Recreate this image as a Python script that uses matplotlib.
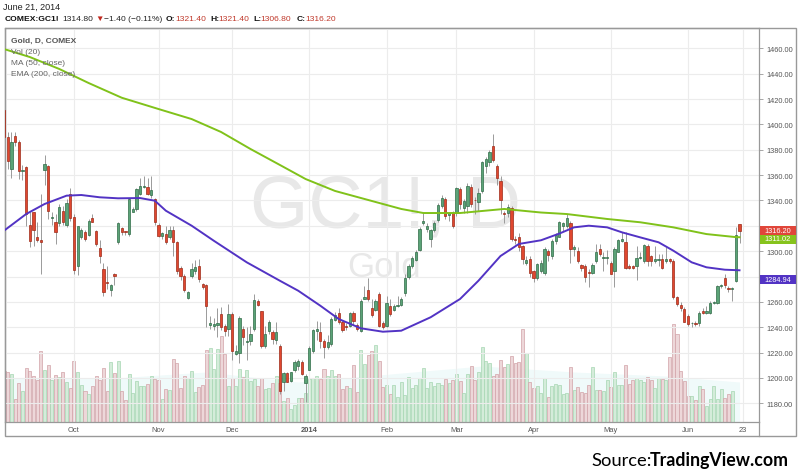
import numpy as np
import pandas as pd
import matplotlib
matplotlib.use("Agg")
import matplotlib.pyplot as plt
from matplotlib.patches import Rectangle
from matplotlib.lines import Line2D

plt.rcParams["font.family"] = ["Liberation Sans", "DejaVu Sans"]

# ---------------------------------
# Data: COMEX:GC1! daily, Sep 2013 - Jun 2014
# ---------------------------------
holidays = ["2013-09-02", "2013-11-28", "2013-12-25", "2014-01-01",
            "2014-01-20", "2014-02-17", "2014-04-18", "2014-05-26"]
dates = pd.bdate_range("2013-09-04", "2014-06-20")
dates = dates[~dates.isin(pd.to_datetime(holidays))]

opens = [
    1411, 1390, 1365, 1391, 1386, 1363, 1366, 1321, 1331, 1311,
    1309, 1364, 1367, 1326, 1323, 1322, 1332, 1321, 1345, 1327,
    1288, 1311, 1315, 1313, 1326, 1316, 1302.5, 1286, 1275.5, 1269.5,
    1282, 1307, 1318, 1315.5, 1313.5, 1331, 1333, 1345, 1351, 1351,
    1344, 1341, 1321, 1312, 1313.5, 1311, 1316.5, 1307, 1287, 1280.5,
    1263, 1280.5, 1284.5, 1288, 1274, 1273, 1241.5, 1241, 1242, 1250.5,
    1241, 1238.5, 1250.5, 1219, 1220, 1238.5, 1228, 1229, 1238.5, 1261,
    1252.5, 1225.5, 1237, 1236, 1230, 1225.5, 1196.5, 1204, 1198, 1206,
    1209.5, 1213, 1196, 1206.5, 1221.5, 1237, 1236.5, 1229, 1224.5, 1227,
    1246, 1251.5, 1244, 1241, 1241, 1251, 1242, 1237, 1262.5, 1269,
    1255, 1254, 1266, 1243, 1241, 1257, 1254, 1257, 1257.5, 1267,
    1280, 1288.5, 1293, 1301, 1322, 1317.5, 1309.5, 1317, 1324.5, 1336,
    1341, 1328.5, 1330, 1330, 1349, 1334, 1336, 1350.5, 1340.5, 1339,
    1347.5, 1367.5, 1370.5, 1383, 1367, 1355.5, 1330.5, 1330, 1334, 1310,
    1311, 1304, 1291, 1294, 1284.5, 1279, 1284.5, 1283, 1300.5, 1296,
    1308, 1311.5, 1320, 1319.5, 1322, 1301.5, 1300, 1289, 1288, 1283.5,
    1283, 1292.5, 1302, 1295, 1295, 1291, 1284, 1299.5, 1308, 1307,
    1288.5, 1288, 1288, 1294.5, 1292.5, 1304, 1296, 1292.5, 1293, 1294,
    1292.5, 1294, 1292.5, 1263.5, 1257.5, 1254.5, 1249, 1243, 1243.3, 1243.3,
    1253, 1251.5, 1251.5, 1259, 1259, 1272.5, 1278.5, 1271, 1270, 1276.5,
    1321.4]
highs = [
    1414, 1394, 1394, 1394, 1388, 1368, 1367, 1331, 1331, 1323,
    1345, 1376, 1368, 1331, 1329, 1337, 1336, 1341, 1350, 1329,
    1320, 1318, 1317, 1325, 1329, 1317, 1309, 1291, 1288, 1274,
    1283, 1323, 1319, 1316, 1342, 1335, 1350, 1358, 1359.5, 1358,
    1359.5, 1342, 1322, 1315, 1320, 1320, 1320, 1308, 1288.5, 1282,
    1268.5, 1291, 1293, 1294, 1275, 1274, 1249, 1247, 1255, 1256,
    1242.5, 1258, 1252, 1226, 1249, 1241, 1240, 1241, 1266, 1262,
    1253, 1241, 1246, 1238, 1244, 1226.5, 1205, 1205, 1205, 1214,
    1215, 1214, 1203, 1225.5, 1239, 1245, 1244, 1231, 1234, 1248,
    1252, 1255, 1245.5, 1243, 1252, 1253, 1243, 1262, 1272.5, 1279,
    1262, 1262, 1267.5, 1245, 1265, 1262, 1258, 1265, 1263.5, 1282,
    1290, 1296, 1301, 1319, 1330, 1322, 1317.5, 1324, 1338, 1344,
    1343, 1331, 1332, 1351, 1351, 1341, 1354, 1353, 1343, 1350,
    1371, 1374, 1380, 1392.5, 1369, 1359, 1332, 1337, 1336, 1312,
    1314, 1305, 1296, 1296, 1285, 1291, 1293, 1303, 1302, 1310,
    1314, 1324, 1323, 1329, 1324, 1305, 1303, 1290, 1290, 1286,
    1291, 1306, 1306, 1299, 1301, 1292.5, 1303, 1310, 1315, 1315,
    1290, 1289.5, 1304, 1299, 1306, 1306, 1297, 1304, 1298, 1298,
    1303, 1295, 1294, 1265, 1260, 1256, 1250.5, 1244.5, 1245, 1253,
    1255, 1257, 1261, 1261, 1273.5, 1274, 1282, 1272.5, 1272, 1319,
    1321.4]
lows = [
    1387, 1365, 1358, 1383, 1357, 1356, 1320, 1303, 1304, 1307,
    1282, 1352, 1325, 1321, 1306, 1320, 1321, 1319, 1324, 1282,
    1281, 1310, 1308, 1312, 1323, 1304, 1291, 1265, 1270, 1265,
    1273, 1306, 1313, 1313, 1312, 1331, 1332, 1344, 1350, 1344,
    1342, 1321, 1311, 1309.5, 1305.5, 1309.5, 1296, 1282, 1277, 1267.5,
    1262, 1279, 1282, 1276, 1270, 1240, 1239, 1238, 1232, 1238,
    1233, 1233, 1214, 1218, 1212, 1226, 1214, 1226, 1237, 1257,
    1224, 1224, 1235, 1227, 1227, 1187, 1190, 1196.5, 1196.5, 1204.5,
    1206, 1202, 1181, 1206, 1220, 1230, 1224, 1216, 1223, 1225.5,
    1245, 1242.5, 1236, 1238, 1240, 1242, 1237, 1236, 1262, 1261,
    1248, 1253, 1240, 1238.5, 1240, 1249, 1253, 1256, 1257, 1265,
    1278, 1287, 1292, 1300, 1321, 1315, 1303, 1315, 1323, 1334,
    1325, 1324, 1318, 1328, 1333, 1330, 1330, 1335, 1329, 1332,
    1346, 1362, 1367, 1370, 1352, 1329, 1322, 1327, 1308, 1306,
    1300, 1290, 1289, 1280, 1276, 1277, 1283, 1281, 1292, 1294,
    1306, 1311, 1316, 1318, 1291, 1296, 1291, 1284.5, 1275.5, 1271.5,
    1282, 1291, 1296, 1284.5, 1290, 1282, 1271.5, 1299, 1307, 1286,
    1286, 1286, 1277, 1293.5, 1291, 1288.5, 1288.5, 1291, 1288.5, 1286,
    1291, 1291, 1262, 1257, 1253, 1244, 1241, 1240, 1241, 1241,
    1250.5, 1250.5, 1250.5, 1258, 1258, 1271, 1271, 1267.5, 1261, 1275.5,
    1306.8]
closes = [
    1390, 1371, 1386, 1386, 1363, 1364, 1329, 1308, 1317, 1309,
    1307, 1369, 1332, 1326.5, 1315, 1335, 1323, 1338, 1326, 1285,
    1320, 1317, 1310, 1324, 1323, 1306, 1296, 1267.5, 1275, 1273,
    1280.5, 1322, 1315, 1315, 1341, 1333, 1349, 1351.5, 1351.2, 1345,
    1348.5, 1323, 1312, 1314, 1307, 1317, 1307, 1284, 1280.5, 1269.5,
    1267.5, 1286, 1287.5, 1278, 1271.5, 1257, 1243, 1242.5, 1243.5, 1240,
    1237, 1250.5, 1221.5, 1221, 1247, 1232.5, 1229.5, 1234.5, 1261.5, 1257.5,
    1225.5, 1235, 1244.5, 1230.5, 1236, 1190, 1204, 1197, 1204.5, 1212.5,
    1213.5, 1203, 1201.5, 1224, 1237.5, 1238.5, 1229, 1224.5, 1228, 1246.5,
    1250, 1244.5, 1237.5, 1240, 1251.5, 1245, 1238.5, 1261, 1263.5, 1262,
    1249.5, 1261, 1241, 1240, 1259.5, 1250.5, 1256.5, 1257.3, 1262, 1279,
    1288, 1294.5, 1299.5, 1317.5, 1324, 1320, 1316.5, 1322, 1336.5, 1342,
    1327.5, 1330, 1320, 1349.5, 1337, 1339.5, 1351.5, 1337, 1340, 1346,
    1370, 1372.5, 1378.5, 1372, 1357.5, 1340.5, 1329.5, 1335, 1310, 1309,
    1303, 1294, 1293, 1283, 1278.5, 1290, 1291, 1302, 1297, 1308,
    1312.5, 1323, 1322, 1326.5, 1302, 1303, 1292.5, 1287, 1280, 1283,
    1289, 1299.5, 1297.5, 1295.3, 1295.3, 1282, 1301.5, 1309, 1309.5, 1287,
    1286.5, 1286.5, 1294.5, 1295, 1305, 1292.5, 1292.5, 1294, 1294, 1287,
    1294, 1292.5, 1263.5, 1258.5, 1255, 1244.5, 1242.5, 1243.3, 1242.5, 1251.5,
    1251.5, 1253, 1259, 1260, 1272.5, 1273.5, 1273.3, 1270, 1271, 1312.5,
    1316.2]
# volume in thousand contracts (last two sessions not reported yet)
volume = [
    127, 125, 121, 58, 98, 77, 136, 127, 115, 104,
    177, 131, 143, 106, 118, 112, 125, 100, 86, 153,
    125, 93, 78, 69, 90, 114, 104, 136, 77, 150,
    123, 153, 77, 56, 121, 73, 103, 89, 90, 94,
    114, 108, 104, 58, 83, 81, 157, 148, 85, 114,
    111, 127, 75, 88, 93, 181, 185, 132, 183, 215,
    171, 89, 110, 89, 133, 113, 131, 103, 108, 89,
    111, 83, 85, 98, 115, 98, 52, 60, 33, 43,
    60, 60, 73, 107, 110, 115, 107, 133, 114, 129,
    115, 121, 83, 90, 86, 142, 75, 181, 146, 168,
    178, 192, 153, 88, 92, 71, 93, 63, 100, 68,
    113, 85, 93, 110, 135, 85, 100, 90, 98, 93,
    108, 98, 104, 119, 103, 73, 119, 140, 104, 125,
    188, 152, 148, 115, 120, 155, 138, 146, 165, 148,
    150, 232, 173, 100, 86, 90, 73, 110, 63, 89,
    96, 93, 71, 73, 138, 79, 88, 75, 73, 93,
    138, 79, 79, 77, 104, 88, 125, 92, 92, 142,
    96, 106, 110, 106, 100, 113, 104, 85, 110, 107,
    106, 163, 244, 221, 128, 103, 65, 65, 56, 89,
    82, 40, 58, 89, 58, 83, 61, 71, 78]

# indicator values (bar number, value)
ma50_bar = [0, 6, 11, 17, 21, 26, 31, 37, 41, 44, 51, 57, 66, 75, 80, 86, 91,
            97, 103, 108, 112, 116, 124, 129, 135, 140, 146, 151, 155, 159,
            164, 168, 173, 178, 182, 187, 191, 196, 200]
ma50_val = [1316.2, 1329.3, 1337.2, 1343.8, 1344.3, 1342.5, 1341.7, 1341.9,
            1339.8, 1331.9, 1320.1, 1308.3, 1291.2, 1276.7, 1268.8, 1257.0,
            1246.5, 1239.2, 1236.5, 1237.3, 1242.6, 1247.9, 1262.3, 1276.7,
            1296.2, 1305.7, 1308.6, 1313.9, 1318.8, 1320.1, 1318.8, 1314.9,
            1310.9, 1307.0, 1300.4, 1291.2, 1287.3, 1285.4, 1284.94]
ema200_bar = [0, 7, 15, 23, 32, 42, 51, 59, 67, 75, 82, 90, 100, 108, 114,
              124, 136, 146, 153, 164, 173, 182, 191, 199, 200]
ema200_val = [1459.4, 1453.1, 1443.7, 1432.6, 1421.0, 1412.1, 1404.2, 1394.0,
              1380.6, 1368.0, 1356.9, 1347.5, 1339.6, 1333.3, 1330.1, 1330.1,
              1333.3, 1330.5, 1329.3, 1325.4, 1322.8, 1318.8, 1313.5, 1311.1,
              1311.02]
volma_bar = [0, 30, 55, 80, 105, 130, 155, 180, 200]
volma_val = [110, 110, 125, 100, 120, 140, 125, 115, 100]

# ---------------------------------
# Figure / axes
# ---------------------------------
W, H = 800, 477
fig = plt.figure(figsize=(8, 4.77), dpi=100)
fig.patch.set_facecolor("white")

def fx(px):
    return px / W

def fy(py):
    return 1 - py / H

ax = fig.add_axes([fx(5), fy(423), (759 - 5) / W, (423 - 29) / H])
axv = ax.twinx()
ax.set_zorder(2)
ax.patch.set_visible(False)

x = np.arange(len(dates))
o = np.array(opens)
h = np.array(highs)
l = np.array(lows)
c = np.array(closes)
up = c >= o

# volume panel (underneath)
nv = len(volume)
axv.fill_between(volma_bar, 0, volma_val, color="#f0fafa", lw=0, zorder=0)
axv.bar(x[:nv], volume, width=0.82,
        color=np.where(up[:nv], "#d4ecda", "#edd7d9"),
        edgecolor=np.where(up[:nv], "#a6d6b2", "#d2a3a8"), linewidth=0.5, zorder=1)
axv.set_ylim(0, 985)
axv.set_yticks([])
axv.tick_params(right=False, labelright=False)
for s in axv.spines.values():
    s.set_visible(False)

# watermark
fig.text(fx(386), fy(228), "GC1!, D", fontsize=54, color="#e8e8e8",
         ha="center", va="baseline", zorder=0.5)
fig.text(fx(384), fy(277), "Gold", fontsize=25, color="#e8e8e8",
         ha="center", va="baseline", zorder=0.5)

# candles
ax.vlines(x, l, h, color="#9a9a9a", lw=0.7, zorder=3)
ax.bar(x, np.maximum(np.abs(c - o), 0.6), bottom=np.minimum(o, c), width=0.62,
       color=np.where(up, "#5ba377", "#e0472f"),
       edgecolor=np.where(up, "#2f6b47", "#9c2a18"), linewidth=0.5, zorder=4)

# moving averages
ax.plot(ema200_bar, ema200_val, color="#80c21a", lw=1.4, zorder=5)
ax.plot(ma50_bar, ma50_val, color="#5233c4", lw=1.4, zorder=5)

ax.set_xlim(0.245, 205.3)
ax.set_ylim(1165.3, 1476.0)

# ticks
tick_pos, tick_lab = [], []
for i in range(1, len(dates)):
    if dates[i].month != dates[i - 1].month:
        tick_pos.append(i)
        tick_lab.append("2014" if dates[i].month == 1 else dates[i].strftime("%b"))
tick_pos.append(len(dates))
tick_lab.append("23")
ax.set_xticks(tick_pos)
ax.set_xticklabels(tick_lab)
for t in ax.get_xticklabels():
    if t.get_text() == "2014":
        t.set_fontweight("bold")
ax.tick_params(axis="x", length=0, pad=3, labelsize=5.4, labelcolor="#555555")

# 1320 and 1280 labels sit under the price tags
yt = np.arange(1180, 1461, 20)
ax.yaxis.tick_right()
ax.set_yticks(yt)
ax.set_yticklabels(["" if v in (1280, 1320) else f"{v:.2f}" for v in yt])
ax.tick_params(axis="y", length=3, width=0.6, color="#999999", pad=2,
               labelsize=5.3, labelcolor="#555555")
ax.grid(True, color="#ececec", lw=0.8, zorder=0)
for s in ax.spines.values():
    s.set_color("#999999")
    s.set_linewidth(0.9)

# outer frame
fig.add_artist(Rectangle((fx(5), fy(437)), (796 - 5) / W, (437 - 29) / H,
                         transform=fig.transFigure, fill=False,
                         edgecolor="#999999", lw=1.0))
fig.add_artist(Line2D([fx(759), fx(759)], [fy(423), fy(437)],
                      transform=fig.transFigure, color="#999999", lw=0.9))

# price tags on the right axis
tags = [("1316.20", 231.7, "#e0463a"), ("1311.02", 240.0, "#86c31c"),
        ("1284.94", 280.7, "#5233c4")]
for txt, py, col in tags:
    fig.add_artist(Rectangle((fx(760), fy(py + 4.5)), 36 / W, 9 / H,
                             transform=fig.transFigure, facecolor=col,
                             edgecolor="none", zorder=10))
    fig.text(fx(778), fy(py), txt, fontsize=5.3, color="white", ha="center",
             va="center", zorder=11)

# header
fig.text(fx(3), fy(7.5), "June 21, 2014", fontsize=6.5, color="#222222", va="center")
head = [(5, "COMEX:GC1!", "bold", "#111111"), (62, "1314.80", "normal", "#222222"),
        (95, "\u25bc", "normal", "#c0281e"), (104, "\u22121.40 (\u22120.11%)", "normal", "#222222"),
        (166, "O:", "bold", "#111111"), (175, "1321.40", "normal", "#c0392b"),
        (210, "H:", "bold", "#111111"), (218, "1321.40", "normal", "#c0392b"),
        (253, "L:", "bold", "#111111"), (260, "1306.80", "normal", "#c0392b"),
        (297, "C:", "bold", "#111111"), (305, "1316.20", "normal", "#c0392b")]
for px, txt, wt, col in head:
    fig.text(fx(px), fy(19.7), txt, fontsize=6.1, fontweight=wt, color=col, va="center")

# legend inside plot
fig.text(fx(11), fy(41.5), "Gold, D, COMEX", fontsize=6, fontweight="bold",
         color="#555555", va="center")
for py, txt in [(52.5, "Vol (20)"), (63.5, "MA (50, close)"), (74.5, "EMA (200, close)")]:
    fig.text(fx(11), fy(py), txt, fontsize=6, color="#666666", va="center")

# source
fig.text(fx(789), fy(466), "TradingView.com", fontsize=12.8, fontweight="bold",
         family="Lato", color="black", ha="right", va="baseline")
fig.text(fx(591), fy(466), "Source:", fontsize=13.2, family="Lato",
         color="black", ha="left", va="baseline")

fig.savefig("out.png", dpi=100)
